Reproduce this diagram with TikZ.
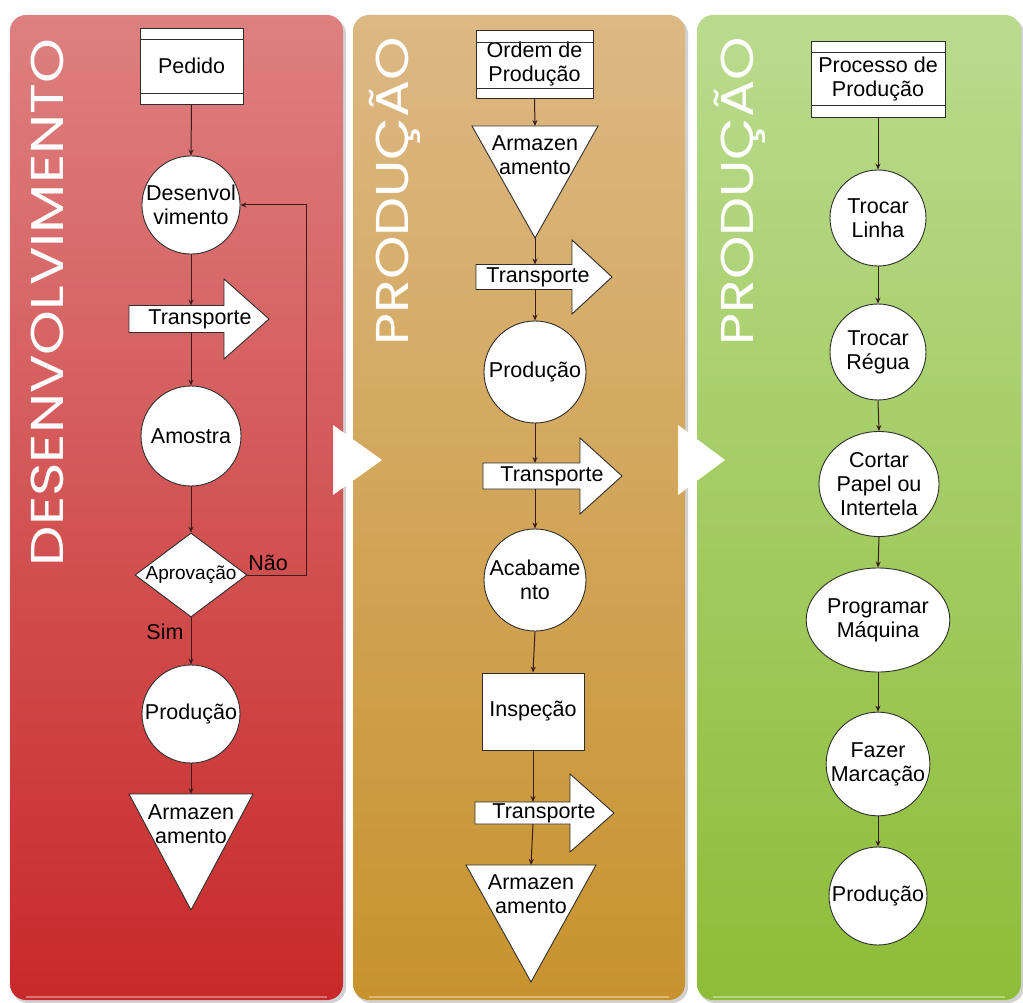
\documentclass[tikz,border=0pt]{standalone}
\usepackage{fontspec}
\setmainfont{Liberation Sans}
\newfontfamily\titlefont{Poppins}
\usetikzlibrary{shapes.geometric,arrows.meta}
\definecolor{redtop}{HTML}{DE8080}
\definecolor{redmid}{HTML}{D24444}
\definecolor{redbot}{HTML}{C8292A}
\definecolor{orgtop}{HTML}{DCB884}
\definecolor{orgmid}{HTML}{CFA04E}
\definecolor{orgbot}{HTML}{C8932E}
\definecolor{grntop}{HTML}{BADB8E}
\definecolor{grnmid}{HTML}{9DC84E}
\definecolor{grnbot}{HTML}{8DBD38}
\definecolor{linecol}{HTML}{3A1E1E}
\definecolor{edgecol}{HTML}{2E2E2E}
\newcommand\transparrow[6]{% L, headbase, tip, yC, bodyhalf, headhalf
  \draw[shapebox] (#1,#4-#5) -- (#2,#4-#5) -- (#2,#4-#6) -- (#3,#4) -- (#2,#4+#6) -- (#2,#4+#5) -- (#1,#4+#5) -- cycle;}
\newcommand\triangdown[4]{% xL, xR, ytop, yapex
  \draw[shapebox] (#1,#3) -- (#2,#3) -- ({(#1+#2)/2},#4) -- cycle;}
\begin{document}
\begin{tikzpicture}[x=1pt,y=-1pt,
  nodefont/.style={font=\fontsize{21.5}{24}\selectfont},
  shapebox/.style={draw=edgecol,fill=white,line width=0.9pt},
  circ/.style={shapebox,circle,inner sep=0pt,align=center,nodefont},
  ell/.style={shapebox,ellipse,inner sep=0pt,align=center,nodefont},
  boxn/.style={shapebox,rectangle,inner sep=0pt,align=center,nodefont},
  txt/.style={inner sep=0pt,align=center,nodefont},
  conn/.style={draw=linecol,line width=1pt,-{Stealth[length=6pt,width=5pt]}},
  paneltitle/.style={rotate=90,anchor=base,inner sep=0pt,text=white,font=\titlefont\fontsize{46}{46}\selectfont},
  chev/.style={fill=white,draw=none},
  shadowbox/.style={fill=black!40,opacity=0.45,rounded corners=16pt},
  glint/.style={draw=white,opacity=0.35,line width=2pt}]
\useasboundingbox (0,0) rectangle (1023,1003);
% panels with shadows
\fill[shadowbox] (12,18) rectangle (346,1003);
\fill[shadowbox] (355,18) rectangle (688,1003);
\fill[shadowbox] (699,18) rectangle (1024,1003);
\shade[top color=redtop,middle color=redmid,bottom color=redbot,rounded corners=16pt] (10,15) rectangle (343,1000);
\shade[top color=orgtop,middle color=orgmid,bottom color=orgbot,rounded corners=16pt] (353,15) rectangle (685,1000);
\shade[top color=grntop,middle color=grnmid,bottom color=grnbot,rounded corners=16pt] (697,15) rectangle (1021,1000);
\draw[glint] (26,997) -- (327,997);
\draw[glint] (369,997) -- (669,997);
\draw[glint] (713,997) -- (1005,997);
% chevrons
\fill[chev] (333,425) -- (382,460) -- (333,495) -- cycle;
\fill[chev] (678,425) -- (725,460) -- (678,495) -- cycle;
% titles
\node[paneltitle] (ttl1) at (63,302.5) {\scalebox{1.24}[1]{DESENVOLVIMENTO}};
\node[paneltitle] (ttl2) at (408,191) {\scalebox{1.2}[1]{PRODUÇÃO}};
\node[paneltitle] (ttl3) at (753,191) {\scalebox{1.2}[1]{PRODUÇÃO}};

% ---------- column 1 ----------
\node[boxn,minimum width=103pt,minimum height=76pt] (ped) at (191.5,66) {Pedido};
\draw[edgecol,line width=0.9pt] ([yshift=-12pt]ped.north west) -- ([yshift=-12pt]ped.north east);
\draw[edgecol,line width=0.9pt] ([yshift=11pt]ped.south west) -- ([yshift=11pt]ped.south east);
\node[circ,minimum size=98pt] (des) at (191,205) {Desenvol\\vimento};
\transparrow{129}{224}{269}{319}{13.5}{40}
\node[txt] (t1) at (200,319) {Transporte};
\coordinate (t1top) at (191,305.5);
\coordinate (t1bot) at (191,332.5);
\node[circ,minimum size=100pt] (amo) at (191,436) {Amostra};
\node[shapebox,diamond,minimum width=112pt,minimum height=84pt,inner sep=0pt] (apr) at (191,575) {};
\node[txt,font=\fontsize{19}{21}\selectfont] (aprt) at (apr) {Aprovação};
\node[circ,minimum size=98pt] (prd1) at (191,714) {Produção};
\triangdown{129}{253}{794}{910}
\coordinate (tri1) at (191,794);
\node[txt] (tri1t) at (191,824) {Armazen\\amento};
\node[txt] (nao) at (268,563) {Não};
\node[txt] (sim) at (165,632) {Sim};
\coordinate (loopa) at (306,575);
\coordinate (loopb) at (306,205);

% ---------- column 2 ----------
\node[boxn,minimum width=117pt,minimum height=68pt] (ord) at (534.5,64) {Ordem de\\Produção};
\draw[edgecol,line width=0.9pt] ([yshift=-13pt]ord.north west) -- ([yshift=-13pt]ord.north east);
\draw[edgecol,line width=0.9pt] ([yshift=10pt]ord.south west) -- ([yshift=10pt]ord.south east);
\triangdown{472}{598}{126}{238}
\coordinate (tri2) at (535,126);
\coordinate (tri2b) at (535,238);
\node[txt] (tri2t) at (535,155) {Armazen\\amento};
\transparrow{476}{572}{612}{277}{12.5}{37}
\node[txt] (t2) at (538,277) {Transporte};
\coordinate (t2top) at (535,264.5);
\coordinate (t2bot) at (535,289.5);
\node[circ,minimum size=102pt] (prd2) at (535,372) {Produção};
\transparrow{483}{580}{622}{476}{13}{38}
\node[txt] (t3) at (552,476) {Transporte};
\coordinate (t3top) at (535,463);
\coordinate (t3bot) at (535,489);
\node[circ,minimum size=102pt] (aca) at (535,580) {Acabame\\nto};
\node[boxn,minimum width=102pt,minimum height=77pt] (insp) at (533,711.5) {Inspeção};
\transparrow{475}{570}{614}{813}{11}{39}
\node[txt] (t4) at (544,813) {Transporte};
\coordinate (t4top) at (533,802);
\coordinate (t4bot) at (533,824);
\triangdown{466}{596}{865}{982}
\coordinate (tri3) at (531,865);
\node[txt] (tri3t) at (531,894) {Armazen\\amento};

% ---------- column 3 ----------
\node[boxn,minimum width=134pt,minimum height=76pt] (proc) at (878,79) {Processo de\\Produção};
\draw[edgecol,line width=0.9pt] ([yshift=-12pt]proc.north west) -- ([yshift=-12pt]proc.north east);
\draw[edgecol,line width=0.9pt] ([yshift=12pt]proc.south west) -- ([yshift=12pt]proc.south east);
\node[circ,minimum size=96pt] (tl) at (878,218) {Trocar\\Linha};
\node[circ,minimum size=96pt] (tr) at (878,352) {Trocar\\Régua};
\node[ell,minimum width=118pt,minimum height=105pt] (cp) at (879,484) {Cortar\\Papel ou\\Intertela};
\node[ell,minimum width=117pt,minimum height=104pt] (pm) at (878,620) {Programar\\Máquina};
\node[circ,minimum size=100pt] (fm) at (878,764) {Fazer\\Marcação};
\node[circ,minimum size=98pt] (pr3) at (878,896) {Produção};

% ---------- connectors ----------
\draw[conn] (ped.south) -- (des.north);
\draw[conn] (des.south) -- (t1top);
\draw[conn] (t1bot) -- (amo.north);
\draw[conn] (amo.south) -- (apr.north);
\draw[conn] (apr.south) -- (prd1.north);
\draw[conn] (prd1.south) -- (tri1);
\draw[conn] (apr.east) -- (loopa) -- (loopb) -- (des.east);

\draw[conn] (ord.south) -- (tri2);
\draw[conn] (tri2b) -- (t2top);
\draw[conn] (t2bot) -- (prd2.north);
\draw[conn] (prd2.south) -- (t3top);
\draw[conn] (t3bot) -- (aca.north);
\draw[conn] (aca.south) -- (insp.north);
\draw[conn] (insp.south) -- (t4top);
\draw[conn] (t4bot) -- (tri3);

\draw[conn] (proc.south) -- (tl.north);
\draw[conn] (tl.south) -- (tr.north);
\draw[conn] (tr.south) -- (cp.north);
\draw[conn] (cp.south) -- (pm.north);
\draw[conn] (pm.south) -- (fm.north);
\draw[conn] (fm.south) -- (pr3.north);
\end{tikzpicture}
\end{document}
